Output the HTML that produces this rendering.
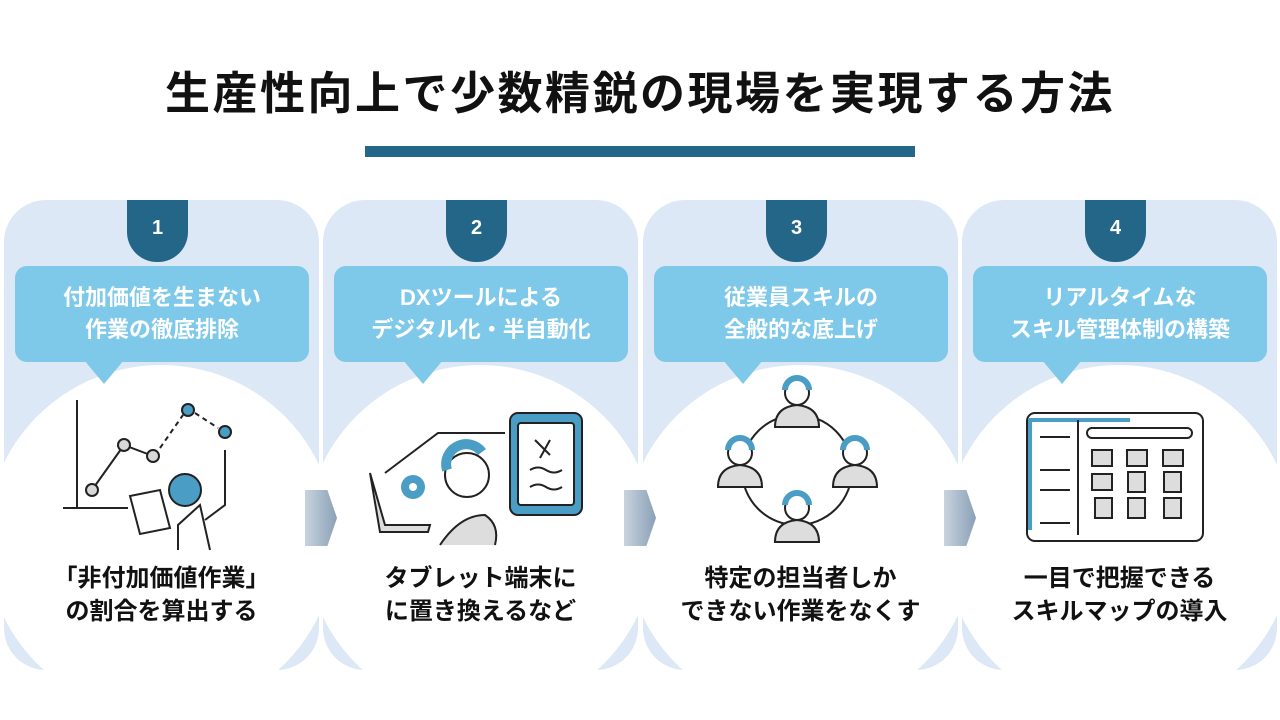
<!DOCTYPE html>
<html><head><meta charset="utf-8"><style>
*{margin:0;padding:0;box-sizing:border-box}
body{width:1280px;height:720px;background:#fff;position:relative;overflow:hidden;font-family:"Liberation Sans","Noto Sans CJK JP",sans-serif}
.title{position:absolute;left:0;top:62px;width:1280px;text-align:center;font-size:45px;font-weight:bold;color:#111;letter-spacing:2.5px;line-height:64px}
.bar{position:absolute;left:365px;top:146px;width:550px;height:11px;background:#236688}
.panel{position:absolute;top:200px;width:315px;height:470px;background:#dce8f5;border-radius:42px;overflow:hidden}
.circ{position:absolute;left:-18px;top:165px;width:350px;height:350px;border-radius:50%;background:#fff}
.tab{position:absolute;left:123px;top:0;width:61px;height:62px;background:#236688;border-radius:0 0 30px 30px;color:#fff;font-weight:bold;font-size:20px;text-align:center;line-height:56px}
.lab{position:absolute;left:11px;top:66px;width:294px;height:96px;background:#7ec8ea;border-radius:12px;color:#fff;font-weight:bold;font-size:22px;line-height:32px;text-align:center;padding-top:16px}
.ptr{position:absolute;left:80px;top:160px;width:0;height:0;border-left:20px solid transparent;border-right:20px solid transparent;border-top:24px solid #7ec8ea}
.bt{position:absolute;left:0;top:362px;width:315px;text-align:center;font-weight:bold;font-size:24px;line-height:33px;color:#111}
.arr{position:absolute;top:490px;width:32px;height:56px;background:linear-gradient(90deg,#c9d3de,#8aa0b6);clip-path:polygon(0 0,70% 0,100% 50%,70% 100%,0 100%)}
</style></head><body>
<div class="title">生産性向上で少数精鋭の現場を実現する方法</div>
<div class="bar"></div>

<div class="panel" style="left:4px"><div class="circ"></div><div class="tab">1</div><div class="lab">付加価値を生まない<br>作業の徹底排除</div><div class="ptr"></div><div class="bt">「非付加価値作業」<br>の割合を算出する</div></div>
<div class="panel" style="left:323px"><div class="circ"></div><div class="tab">2</div><div class="lab">DXツールによる<br>デジタル化・半自動化</div><div class="ptr"></div><div class="bt">タブレット端末に<br>に置き換えるなど</div></div>
<div class="panel" style="left:643px"><div class="circ"></div><div class="tab">3</div><div class="lab">従業員スキルの<br>全般的な底上げ</div><div class="ptr"></div><div class="bt">特定の担当者しか<br>できない作業をなくす</div></div>
<div class="panel" style="left:962px"><div class="circ"></div><div class="tab">4</div><div class="lab">リアルタイムな<br>スキル管理体制の構築</div><div class="ptr"></div><div class="bt">一目で把握できる<br>スキルマップの導入</div></div>

<div class="arr" style="left:305px"></div>
<div class="arr" style="left:624px"></div>
<div class="arr" style="left:944px"></div>

<svg width="1280" height="720" style="position:absolute;left:0;top:0" fill="none" stroke="#222" stroke-width="2">
<defs>
<g id="p" fill="#fff">
<path d="M-22 32q0-20 22-22q22 2 22 22Z" fill="#ddd"/>
<circle cx="0" cy="-2" r="12"/><path d="M-12 -5a12 12 0 0 1 24 0" stroke="#4a9dc4" stroke-width="6"/>
</g>
</defs>
<!-- panel1 -->
<path d="M77 400V508M63 508H128"/>
<path d="M92 490L124 445L153 456"/>
<path d="M160 448L183 415M195 413L218 428" stroke-dasharray="5 4"/>
<circle cx="92" cy="490" r="6" fill="#d8d8d8"/><circle cx="124" cy="445" r="6" fill="#d8d8d8"/><circle cx="153" cy="456" r="6" fill="#d8d8d8"/>
<circle cx="188" cy="410" r="6" fill="#4a9dc4"/><circle cx="225" cy="432" r="6" fill="#4a9dc4"/>
<circle cx="185" cy="490" r="16" fill="#4a9dc4"/>
<path d="M178 550V525L200 505L210 550M225 450V505L205 520" />
<path d="M130 496L160 490L170 528L140 534Z" fill="#fff"/>
<!-- panel2 -->
<path d="M385 473L438 433H505"/>
<rect x="510" y="413" width="72" height="102" rx="8" fill="#4a9dc4"/>
<rect x="518" y="423" width="56" height="82" rx="3" fill="#fff"/>
<path d="M530 470q8-5 16 0t16 0M530 487q8-5 16 0t16 0M535 440l15 15M550 440l-10 18"/>
<circle cx="413" cy="487" r="12" fill="#4a9dc4" stroke="none"/><circle cx="413" cy="487" r="4" fill="#fff" stroke="none"/>
<circle cx="467" cy="475" r="22" fill="#fff"/><path d="M447 470a20 20 0 0 1 35-18" stroke="#4a9dc4" stroke-width="10"/>
<path d="M370 473L385 525H430L428 532H380Z" fill="#ddd"/>
<path d="M440 545q20-30 45-30q15 10 10 30" fill="#ddd"/>
<!-- panel3 -->
<circle cx="797" cy="470" r="55"/>
<use href="#p" transform="translate(797,395)"/>
<use href="#p" transform="translate(740,455)"/>
<use href="#p" transform="translate(855,455)"/>
<use href="#p" transform="translate(797,510)"/>
<!-- panel4 -->
<rect x="1027" y="413" width="176" height="128" rx="8" fill="#fff"/>
<path d="M1030 530V420h100" stroke="#4a9dc4" stroke-width="4"/>
<path d="M1078 420V535M1040 437h30M1040 470h30M1040 490h30M1040 523h30"/>
<rect x="1087" y="428" width="105" height="10" rx="5"/>
<g fill="#ddd">
<rect x="1092" y="450" width="20" height="16"/><rect x="1127" y="450" width="20" height="16"/><rect x="1163" y="450" width="20" height="16"/>
<rect x="1092" y="474" width="20" height="16"/><rect x="1128" y="472" width="17" height="20"/><rect x="1164" y="472" width="17" height="20"/>
<rect x="1095" y="498" width="17" height="20"/><rect x="1128" y="498" width="17" height="20"/><rect x="1164" y="498" width="17" height="20"/>
</g>
</svg>
</body></html>
